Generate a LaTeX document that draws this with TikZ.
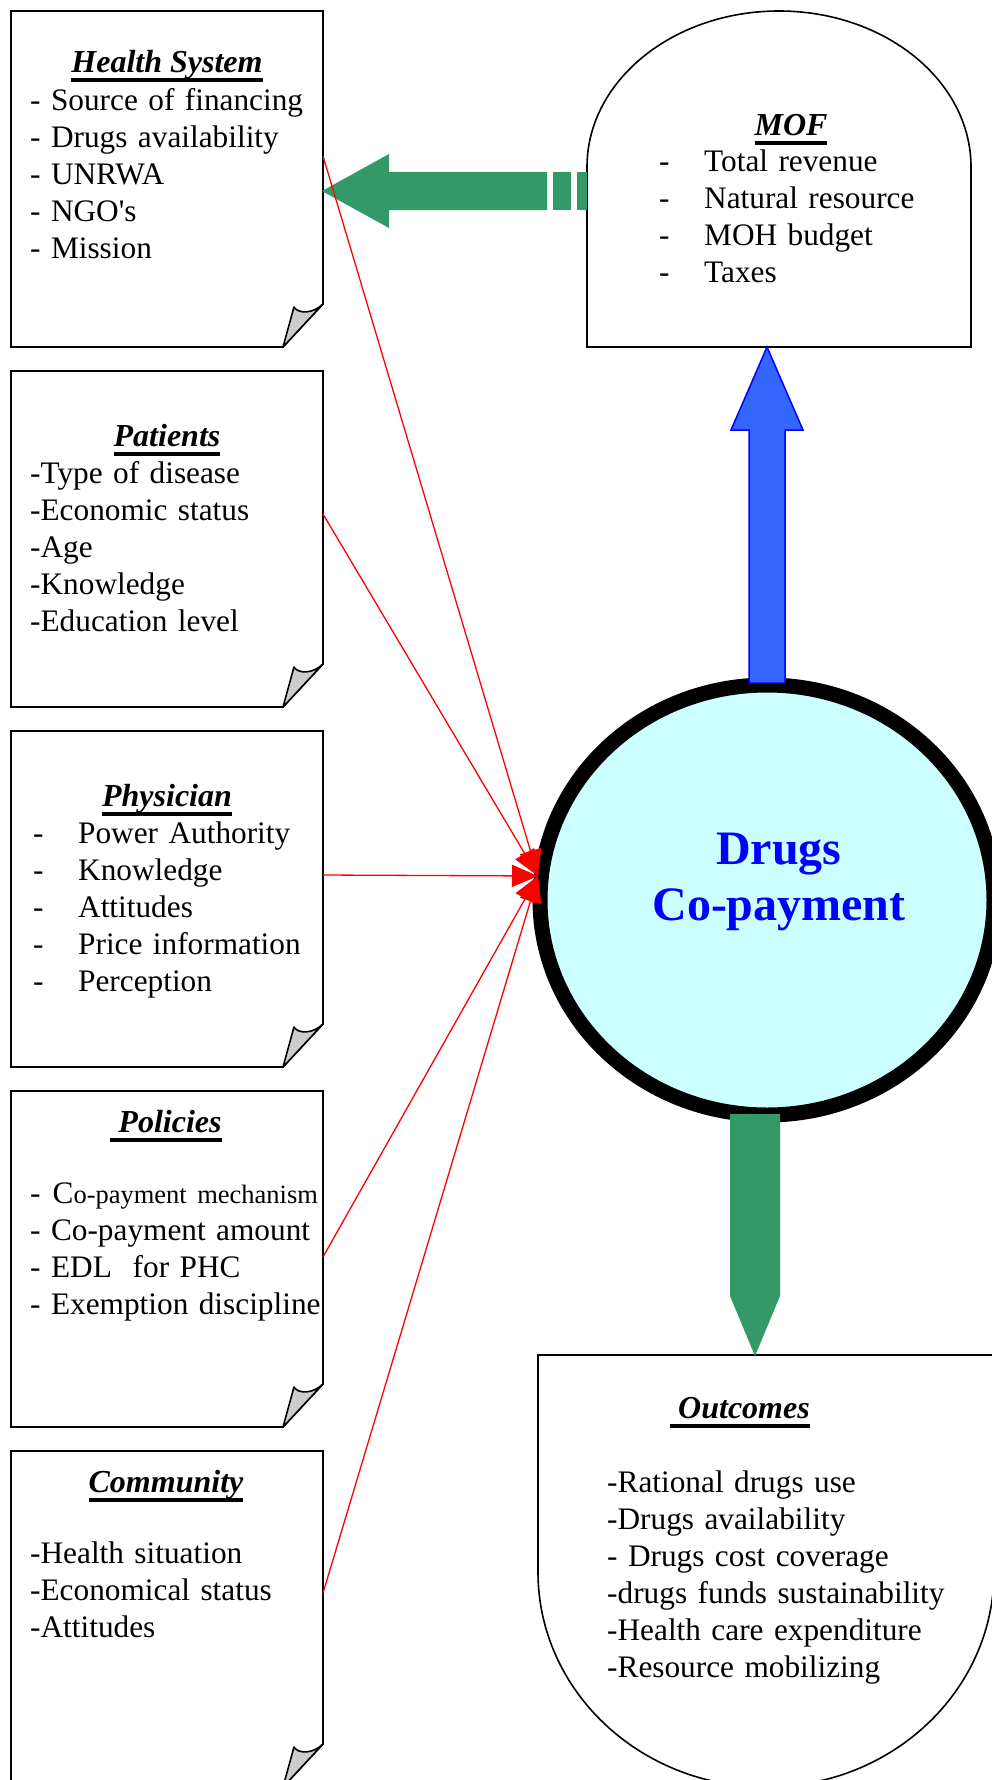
\documentclass[tikz,border=0pt]{standalone}
\usepackage{fontspec}
\setmainfont{Liberation Serif}
\usetikzlibrary{shapes.geometric,arrows.meta}

\definecolor{arrowgreen}{RGB}{51,153,102}
\definecolor{arrowblue}{RGB}{51,102,255}
\definecolor{corefill}{RGB}{204,255,255}
\definecolor{foldgray}{RGB}{204,204,204}

\newcommand{\itemfont}{\fontsize{31.3}{37}\selectfont}
\newcommand{\titlefont}{\fontsize{32}{37}\selectfont}
\newcommand{\hdr}[1]{\setbox0\hbox{\bfseries\itshape #1}\leavevmode\rlap{\rule[-9.5pt]{\wd0}{3.5pt}}\box0}
\newcommand{\tabdash}{\makebox[45pt][l]{-}}

% page with a curled corner, drawn round an empty node
\newcommand{\notepage}[1]{%
  \draw[pageline] (#1.north west) -- (#1.north east) -- ([yshift=43pt]#1.south east)
    -- ([xshift=-40pt]#1.south east) -- (#1.south west) -- cycle;
  \draw[fold] ([yshift=43pt]#1.south east) -- ([xshift=-40pt]#1.south east)
    -- ([shift={(-29pt,40pt)}]#1.south east)
    .. controls ([shift={(-25pt,33pt)}]#1.south east) and ([shift={(-10pt,33pt)}]#1.south east) .. ([yshift=43pt]#1.south east) -- cycle;
}

\tikzset{
  notebox/.style={minimum width=312, minimum height=336, inner sep=0, outer sep=0},
  pageline/.style={line width=1.6},
  fold/.style={fill=foldgray, draw=black, line width=1.6, line join=round},
  boxtitle/.style={anchor=base, inner sep=0, font=\titlefont},
  boxitems/.style={anchor=base west, inner sep=0, text width=360, align=left, font=\itemfont},
  feed/.style={draw=red, line width=1.3, -{Triangle[length=26pt,width=22pt]}},
}

\begin{document}
\begin{tikzpicture}[x=1pt,y=1pt]
	\useasboundingbox (0,0) rectangle (991,-1780);

	% MOF and outcomes
	\draw[line width=1.6] (587,-347) -- (587,-167) arc[start angle=180, end angle=0, x radius=192, y radius=156] -- (971,-347) -- cycle;
	\node[boxtitle] (mof-title) at (791,-135) {\hdr{MOF}};
	\node[boxitems] (mof-list) at (659,-171) {\tabdash Total revenue\\\tabdash Natural resource\\\tabdash MOH budget\\\tabdash Taxes};

	\draw[line width=1.6] (538,-1355) -- (994,-1355) -- (994,-1572) arc[start angle=0, end angle=-180, x radius=228, y radius=215] -- cycle;
	\node[boxtitle] (out-title) at (740,-1418) {\hdr{\ Outcomes}};
	\node[boxitems] (out-list) at (607,-1492) {-Rational drugs use\\-Drugs availability\\- Drugs cost coverage\\-drugs funds sustainability\\-Health care expenditure\\-Resource mobilizing};

	% factor pages
	\node[notebox] (health) at (167,-179) {};
	\notepage{health}
	\node[boxtitle] (health-title) at (167,-72) {\hdr{Health System}};
	\node[boxitems] (health-list) at (30,-110) {- Source of financing\\- Drugs availability\\- UNRWA\\- NGO\textquotesingle s\\- Mission};

	\node[notebox] (patients) at (167,-539) {};
	\notepage{patients}
	\node[boxtitle] (patients-title) at (167,-446) {\hdr{Patients}};
	\node[boxitems] (patients-list) at (30,-483) {-Type of disease\\-Economic status\\-Age\\-Knowledge\\-Education level};

	\node[notebox] (physician) at (167,-899) {};
	\notepage{physician}
	\node[boxtitle] (physician-title) at (167,-806) {\hdr{Physician}};
	\node[boxitems] (physician-list) at (33,-843) {\tabdash Power Authority\\\tabdash Knowledge\\\tabdash Attitudes\\\tabdash Price information\\\tabdash Perception};

	\node[notebox] (policies) at (167,-1259) {};
	\notepage{policies}
	\node[boxtitle] (policies-title) at (166,-1132) {\hdr{\ Policies}};
	\node[boxitems] (policies-list) at (30,-1203) {-\hspace{12pt}C{\fontsize{26.5}{37}\selectfont o-payment mechanism}\\- Co-payment amount\\- EDL\ \ for PHC\\- Exemption discipline};

	\node[notebox] (community) at (167,-1619) {};
	\notepage{community}
	\node[boxtitle] (community-title) at (166,-1492) {\hdr{Community}};
	\node[boxitems] (community-list) at (30,-1563) {-Health situation\\-Economical status\\-Attitudes};

	% the co-payment
	\node[ellipse, draw, line width=15, fill=corefill, minimum width=454, minimum height=430, inner sep=0, outer sep=0] (core) at (767,-900) {};
	\node[anchor=base, text width=320, align=center, inner sep=0, text=blue, font=\fontsize{48}{56}\selectfont\bfseries] (core-label) at (779,-864) {Drugs\\Co-payment};

	% block arrows
	\fill[arrowgreen] (547,-172) -- (389,-172) -- (389,-154) -- (322,-191) -- (389,-228) -- (389,-210) -- (547,-210) -- cycle;
	\fill[arrowgreen] (553,-172) rectangle (571,-210);
	\fill[arrowgreen] (577,-172) rectangle (587,-210);
	\filldraw[fill=arrowblue, draw=blue, line width=1.5] (749,-683) -- (749,-430) -- (731,-430) -- (767,-347) -- (803,-430) -- (785,-430) -- (785,-683) -- cycle;
	\fill[arrowgreen] (730,-1114) -- (780,-1114) -- (780,-1296) -- (755,-1356) -- (730,-1296) -- cycle;

	\coordinate (hub) at (538,-876);
	\draw[feed] ([yshift=23pt]health.east) -- (hub);
	\draw[feed] ([yshift=25pt]patients.east) -- (hub);
	\draw[feed] ([yshift=24pt]physician.east) -- (hub);
	\draw[feed] ([yshift=2pt]policies.east) -- (hub);
	\draw[feed] ([yshift=26pt]community.east) -- (hub);
\end{tikzpicture}
\end{document}
